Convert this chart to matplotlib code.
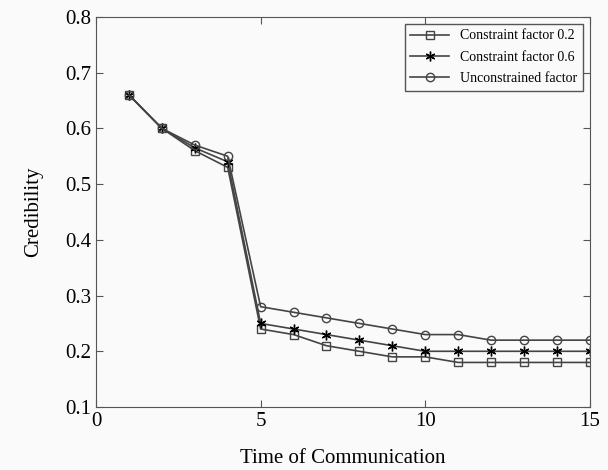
import matplotlib
matplotlib.use("Agg")
import matplotlib.pyplot as plt
import numpy as np

plt.rcParams['font.family'] = ['Liberation Serif', 'DejaVu Serif']

x = np.arange(1, 16)
cf02 = [0.66, 0.60, 0.56, 0.53, 0.24, 0.23, 0.21, 0.20, 0.19, 0.19, 0.18, 0.18, 0.18, 0.18, 0.18]
cf06 = [0.66, 0.60, 0.565, 0.54, 0.25, 0.24, 0.23, 0.22, 0.21, 0.20, 0.20, 0.20, 0.20, 0.20, 0.20]
uncon = [0.66, 0.60, 0.57, 0.55, 0.28, 0.27, 0.26, 0.25, 0.24, 0.23, 0.23, 0.22, 0.22, 0.22, 0.22]

fig = plt.figure(figsize=(6.08, 4.7), dpi=100, facecolor='#fafafa')
ax = fig.add_axes([0.158, 0.134, 0.812, 0.830])
ax.set_facecolor('#fafafa')

lc = '#444444'
ax.plot(x, cf02, color=lc, lw=1.2, marker='s', ms=6, mfc='none', mec=lc, mew=1.0, label='Constraint factor 0.2')
ax.plot(x, cf06, color=lc, lw=1.2, marker=(6, 2, 0), ms=7, mfc='black', mec='black', mew=1.0, label='Constraint factor 0.6')
ax.plot(x, uncon, color=lc, lw=1.2, marker='o', ms=6, mfc='none', mec=lc, mew=1.0, label='Unconstrained factor')

ax.set_xlim(0, 15)
ax.set_ylim(0.1, 0.8)
ax.set_xticks([0, 5, 10, 15])
ax.set_yticks(np.arange(0.1, 0.81, 0.1))
ax.tick_params(direction='in', top=True, right=True, labelsize=15, length=5, color='#555555')
for s in ax.spines.values():
    s.set_color('#555555')

ax.set_xlabel('Time of Communication', fontsize=15, labelpad=13)
ax.set_ylabel('Credibility', fontsize=15, labelpad=16)

leg = ax.legend(loc='upper right', fontsize=10, fancybox=False, edgecolor='#555555',
                framealpha=1, facecolor='#fafafa', handlelength=2.8, borderaxespad=0.5,
                labelspacing=0.6)
leg.get_frame().set_linewidth(1.0)

fig.savefig('out.png', dpi=100, facecolor=fig.get_facecolor())
